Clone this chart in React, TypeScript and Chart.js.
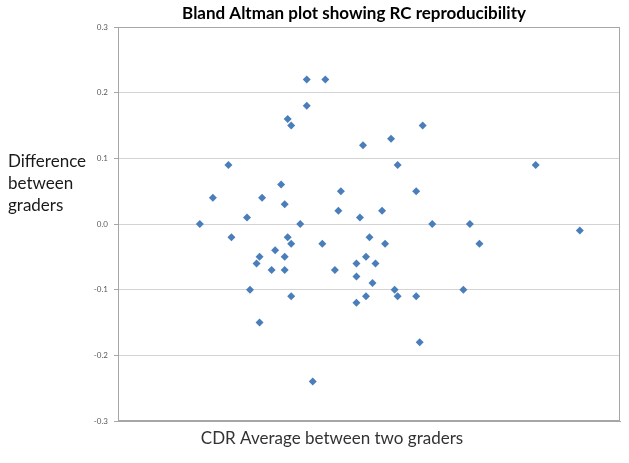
import React, { useEffect, useRef } from 'react';
import { Chart, registerables } from 'chart.js';

Chart.register(...registerables);

const TITLE = 'Bland Altman plot showing RC reproducibility';
const X_TITLE = 'CDR Average between two graders';
const Y_TITLE_LINES = ['Difference', 'between', 'graders'];

const Y_MIN = -0.3;
const Y_MAX = 0.3;
const Y_STEP = 0.1;

const cdrAverage = [
  0.163, 0.189, 0.220, 0.226, 0.257, 0.263, 0.276, 0.282, 0.282, 0.287,
  0.306, 0.313, 0.325, 0.332, 0.332, 0.332, 0.338, 0.338, 0.345, 0.345,
  0.345, 0.363, 0.376, 0.376, 0.388, 0.407, 0.413, 0.432, 0.439, 0.444,
  0.475, 0.475, 0.475, 0.482, 0.488, 0.494, 0.494, 0.501, 0.507, 0.513,
  0.526, 0.532, 0.544, 0.551, 0.557, 0.557, 0.594, 0.594, 0.601, 0.607,
  0.626, 0.688, 0.701, 0.720, 0.832, 0.920,
];

const difference = [
  0.00, 0.04, 0.09, -0.02, 0.01, -0.10, -0.06, -0.05, -0.15, 0.04,
  -0.07, -0.04, 0.06, 0.03, -0.05, -0.07, 0.16, -0.02, 0.15, -0.03,
  -0.11, 0.00, 0.22, 0.18, -0.24, -0.03, 0.22, -0.07, 0.02, 0.05,
  -0.06, -0.08, -0.12, 0.01, 0.12, -0.05, -0.11, -0.02, -0.09, -0.06,
  0.02, -0.03, 0.13, -0.10, 0.09, -0.11, 0.05, -0.11, -0.18, 0.15,
  0.00, -0.10, 0.00, -0.03, 0.09, -0.01,
];

const FONT = 'Lato, "Open Sans", sans-serif';

const textPlugin = {
  id: 'textAndFrame',
  afterDraw(chart: any) {
    const { ctx, chartArea } = chart;
    ctx.save();
    // frame
    ctx.strokeStyle = '#a6a6a6';
    ctx.lineWidth = 1;
    ctx.strokeRect(
      Math.round(chartArea.left) + 0.5,
      Math.round(chartArea.top) + 0.5,
      Math.round(chartArea.right - chartArea.left) - 1,
      Math.round(chartArea.bottom - chartArea.top) - 1
    );
    // title
    ctx.fillStyle = '#000000';
    ctx.font = `bold 17px ${FONT}`;
    ctx.textAlign = 'center';
    ctx.textBaseline = 'middle';
    ctx.fillText(TITLE, 354, 14);
    // y title
    ctx.font = `17px ${FONT}`;
    ctx.fillStyle = '#1a1a1a';
    ctx.textAlign = 'left';
    ctx.textBaseline = 'alphabetic';
    Y_TITLE_LINES.forEach((line, i) => {
      ctx.fillText(line, 8, 167 + i * 22);
    });
    // x title
    ctx.fillStyle = '#333333';
    ctx.textAlign = 'center';
    ctx.textBaseline = 'middle';
    ctx.fillText(X_TITLE, 332, 439);
    ctx.restore();
  },
};

export default function App() {
  const canvasRef = useRef<HTMLCanvasElement | null>(null);

  useEffect(() => {
    if (!canvasRef.current) return;
    const points = cdrAverage.map((x, i) => ({ x, y: difference[i] }));
    const chart = new Chart(canvasRef.current, {
      type: 'scatter',
      data: {
        datasets: [
          {
            label: 'Difference',
            data: points,
            pointStyle: 'rectRot',
            pointRadius: 4,
            pointHoverRadius: 4,
            backgroundColor: '#4a7ebb',
            borderColor: '#4a7ebb',
            borderWidth: 0,
          },
        ],
      },
      options: {
        responsive: false,
        maintainAspectRatio: false,
        animation: false,
        layout: { padding: { top: 27, right: 9, left: 0, bottom: 0 } },
        plugins: {
          legend: { display: false },
          title: { display: false },
          tooltip: { enabled: false },
        },
        scales: {
          x: {
            type: 'linear',
            min: 0,
            max: 1,
            ticks: { display: false },
            grid: { display: false },
            border: { display: true, color: '#a6a6a6' },
            afterFit: (s: any) => {
              s.height = 42;
            },
          },
          y: {
            type: 'linear',
            min: Y_MIN,
            max: Y_MAX,
            ticks: {
              stepSize: Y_STEP,
              padding: 6,
              color: '#595959',
              font: { family: FONT, size: 8 },
              callback: (v: any) => Number(v).toFixed(1),
            },
            grid: {
              color: '#d4d4d4',
              lineWidth: 1,
              drawTicks: true,
              tickLength: 4,
              tickColor: '#a6a6a6',
            },
            border: { display: true, color: '#a6a6a6' },
            afterFit: (s: any) => {
              s.width = 118;
            },
          },
        },
      },
      plugins: [textPlugin],
    });
    return () => chart.destroy();
  }, []);

  return (
    <div style={{ position: 'fixed', left: 0, top: 0, width: 629, height: 463, background: '#fff' }}>
      <canvas ref={canvasRef} width={629} height={463} style={{ display: 'block', width: 629, height: 463 }} />
    </div>
  );
}
